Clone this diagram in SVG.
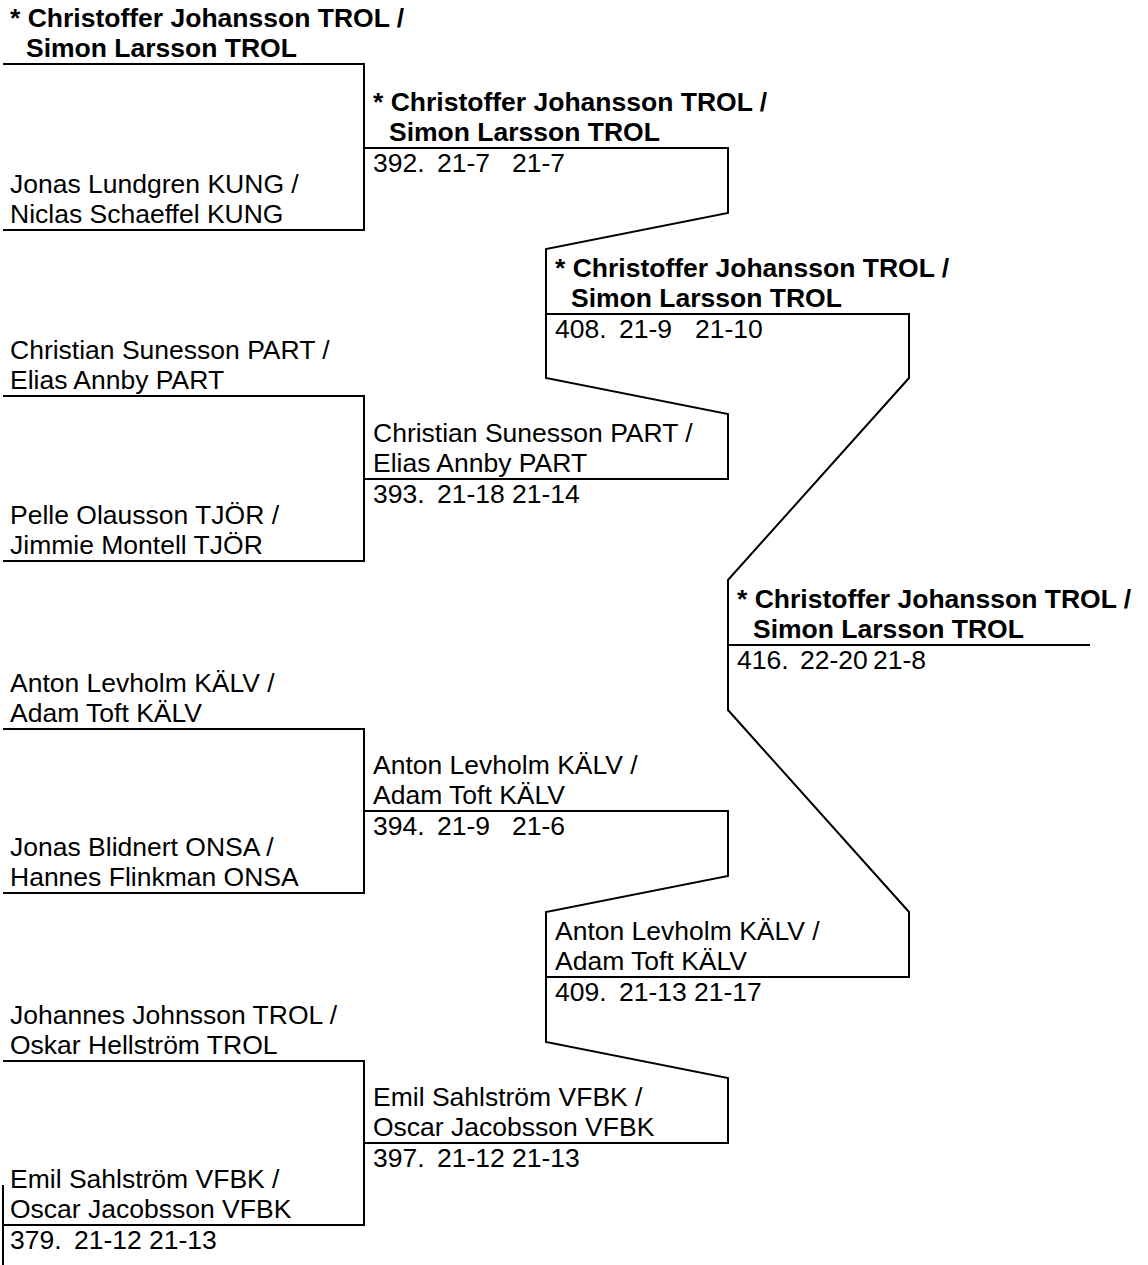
<svg xmlns="http://www.w3.org/2000/svg" width="1148" height="1265" viewBox="0 0 1148 1265">
<style>
text{font-family:"Liberation Sans",Arial,sans-serif;font-size:26.5px;fill:#000}
.b{font-weight:bold}
.c{fill:none;stroke:#000;stroke-width:2}
</style>
<rect width="1148" height="1265" fill="#fff"/>
<g id="connectors">
<path class="c" d="M3 64 H364 V230 H3"/>
<path class="c" d="M3 396 H364 V561 H3"/>
<path class="c" d="M3 729 H364 V893 H3"/>
<path class="c" d="M3 1061 H364 V1225 H3"/>
<path class="c" d="M3 1185 V1265"/>
<path class="c" d="M364 148 H728 V213 L546 249 V378 L728 414 V479 H364"/>
<path class="c" d="M364 811 H728 V876 L546 912 V1042 L728 1078 V1143 H364"/>
<path class="c" d="M546 314 H909 V378 L728 580 V710 L909 912 V977 H546"/>
<path class="c" d="M728 645 H1090"/>
</g>
<g id="r1-1"><text class="b" x="10" y="27">* Christoffer Johansson TROL /</text><text class="b" x="26" y="57">Simon Larsson TROL</text></g>
<g id="r1-2"><text x="10" y="193">Jonas Lundgren KUNG /</text><text x="10" y="223">Niclas Schaeffel KUNG</text></g>
<g id="r1-3"><text x="10" y="359">Christian Sunesson PART /</text><text x="10" y="389">Elias Annby PART</text></g>
<g id="r1-4"><text x="10" y="524">Pelle Olausson TJÖR /</text><text x="10" y="554">Jimmie Montell TJÖR</text></g>
<g id="r1-5"><text x="10" y="692">Anton Levholm KÄLV /</text><text x="10" y="722">Adam Toft KÄLV</text></g>
<g id="r1-6"><text x="10" y="856">Jonas Blidnert ONSA /</text><text x="10" y="886">Hannes Flinkman ONSA</text></g>
<g id="r1-7"><text x="10" y="1024">Johannes Johnsson TROL /</text><text x="10" y="1054">Oskar Hellström TROL</text></g>
<g id="r1-8"><text x="10" y="1188">Emil Sahlström VFBK /</text><text x="10" y="1218">Oscar Jacobsson VFBK</text><text x="10" y="1249">379. <tspan x="74">21-12 </tspan><tspan x="149">21-13</tspan></text></g>
<g id="m392"><text class="b" x="373" y="111">* Christoffer Johansson TROL /</text><text class="b" x="389" y="141">Simon Larsson TROL</text><text x="373" y="172">392. <tspan x="437">21-7 </tspan><tspan x="512">21-7</tspan></text></g>
<g id="m393"><text x="373" y="442">Christian Sunesson PART /</text><text x="373" y="472">Elias Annby PART</text><text x="373" y="503">393. <tspan x="437">21-18 </tspan><tspan x="512">21-14</tspan></text></g>
<g id="m394"><text x="373" y="774">Anton Levholm KÄLV /</text><text x="373" y="804">Adam Toft KÄLV</text><text x="373" y="835">394. <tspan x="437">21-9 </tspan><tspan x="512">21-6</tspan></text></g>
<g id="m397"><text x="373" y="1106">Emil Sahlström VFBK /</text><text x="373" y="1136">Oscar Jacobsson VFBK</text><text x="373" y="1167">397. <tspan x="437">21-12 </tspan><tspan x="512">21-13</tspan></text></g>
<g id="m408"><text class="b" x="555" y="277">* Christoffer Johansson TROL /</text><text class="b" x="571" y="307">Simon Larsson TROL</text><text x="555" y="338">408. <tspan x="619">21-9 </tspan><tspan x="695">21-10</tspan></text></g>
<g id="m409"><text x="555" y="940">Anton Levholm KÄLV /</text><text x="555" y="970">Adam Toft KÄLV</text><text x="555" y="1001">409. <tspan x="619">21-13 </tspan><tspan x="694">21-17</tspan></text></g>
<g id="m416"><text class="b" x="737" y="608">* Christoffer Johansson TROL /</text><text class="b" x="753" y="638">Simon Larsson TROL</text><text x="737" y="669">416. <tspan x="800">22-20 </tspan><tspan x="873">21-8</tspan></text></g>
</svg>
